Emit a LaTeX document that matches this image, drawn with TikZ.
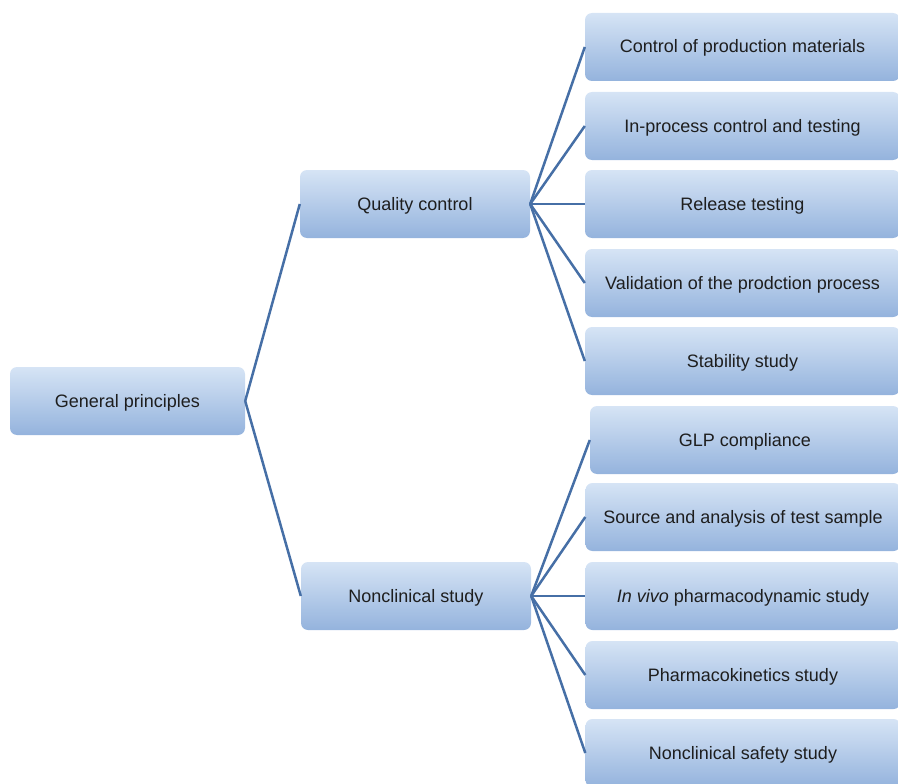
\documentclass[tikz,border=0pt]{standalone}
\usepackage{fontspec}
\setmainfont{Liberation Sans}
\usepackage{xcolor}
\usepackage{tikz}
\usetikzlibrary{positioning}
\definecolor{boxtop}{RGB}{214,228,245}
\definecolor{boxbot}{RGB}{148,179,221}
\definecolor{linkblue}{RGB}{70,111,166}
\definecolor{txt}{RGB}{30,30,30}

\begin{document}
\begin{tikzpicture}[x=1pt, y=-1pt,
  box/.style={rectangle, rounded corners=7pt, top color=boxtop, bottom color=boxbot,
              draw=none, minimum height=68pt, font=\fontsize{18}{21}\selectfont,
              text=txt, align=center, inner sep=0pt, text height=16pt, text depth=4pt},
  mid/.style={box, minimum width=230pt},
  leaf/.style={box, minimum width=315pt},
  link/.style={draw=linkblue, line width=2.5pt}
]
\useasboundingbox (0,0) rectangle (898,784);

% Root and branches
\node[box, minimum width=235pt] (root) at (127.5,401) {General principles};
\node[mid] (qc)  at (415,204) {Quality control};
\node[mid] (ncs) at (416,596) {Nonclinical study};

% Quality control leaves
\node[leaf] (ctrl)    at (742.5,47)  {Control of production materials};
\node[leaf] (inproc)  at (742.5,126) {In-process control and testing};
\node[leaf] (release) at (742.5,204) {Release testing};
\node[leaf] (valid)   at (742.5,283) {Validation of the prodction process};
\node[leaf] (stab)    at (742.5,361) {Stability study};

% Nonclinical study leaves
\node[leaf, minimum width=310pt] (glp) at (745,440) {GLP compliance};
\node[leaf] (source)  at (743,517) {Source and analysis of test sample};
\node[leaf] (invivo)  at (743,596) {\textit{In vivo} pharmacodynamic study};
\node[leaf] (pk)      at (743,675) {Pharmacokinetics study};
\node[leaf] (safety)  at (743,753) {Nonclinical safety study};

% Links
\draw[link] (root.east) -- (qc.west);
\draw[link] (root.east) -- (ncs.west);
\draw[link] (qc.east) -- (ctrl.west);
\draw[link] (qc.east) -- (inproc.west);
\draw[link] (qc.east) -- (release.west);
\draw[link] (qc.east) -- (valid.west);
\draw[link] (qc.east) -- (stab.west);
\draw[link] (ncs.east) -- (glp.west);
\draw[link] (ncs.east) -- (source.west);
\draw[link] (ncs.east) -- (invivo.west);
\draw[link] (ncs.east) -- (pk.west);
\draw[link] (ncs.east) -- (safety.west);
\end{tikzpicture}
\end{document}
